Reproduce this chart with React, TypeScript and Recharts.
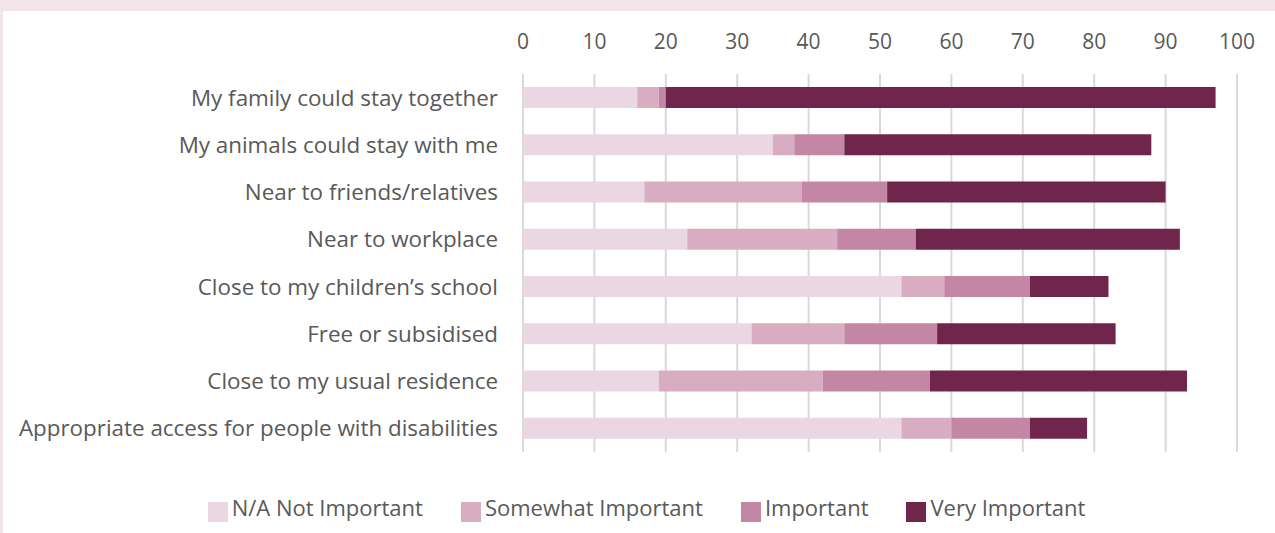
import React from "react";
import { BarChart, Bar, XAxis, YAxis, CartesianGrid, Legend } from "recharts";

const categories = [
  "My family could stay together",
  "My animals could stay with me",
  "Near to friends/relatives",
  "Near to workplace",
  "Close to my children\u2019s school",
  "Free or subsidised",
  "Close to my usual residence",
  "Appropriate access for people with disabilities",
];
const notImportant = [16, 35, 17, 23, 53, 32, 19, 53];
const somewhatImportant = [3, 3, 22, 21, 6, 13, 23, 7];
const important = [1, 7, 12, 11, 12, 13, 15, 11];
const veryImportant = [77, 43, 39, 37, 11, 25, 36, 8];
const xTicks = [0, 10, 20, 30, 40, 50, 60, 70, 80, 90, 100];

const seriesNames = ["N/A Not Important", "Somewhat Important", "Important", "Very Important"];
const seriesColors = ["#EAD7E2", "#D8ADC2", "#C386A4", "#70264C"];

const data = categories.map((name, i) => ({
  name,
  s0: notImportant[i],
  s1: somewhatImportant[i],
  s2: important[i],
  s3: veryImportant[i],
}));

const TEXT = "#595959";
const FONT = "'Open Sans', 'Noto Sans', sans-serif";

export default function App() {
  return (
    <div
      style={{
        position: "absolute",
        left: 0,
        top: 0,
        width: 1275,
        height: 533,
        background: "#F2E4EB",
        fontFamily: FONT,
        overflow: "hidden",
      }}
    >
      <div
        style={{
          position: "absolute",
          left: 3,
          top: 11,
          width: 1272,
          height: 522,
          background: "#FFFFFF",
        }}
      />
      <div style={{ position: "absolute", left: 0, top: 0 }}>
        <BarChart
          width={1275}
          height={533}
          data={data}
          layout="vertical"
          margin={{ top: 44, right: 38, bottom: 41, left: 10 }}
          barSize={21}
        >
          <CartesianGrid horizontal={false} vertical={true} stroke="#D9D9D9" strokeWidth={2} />
          <XAxis
            type="number"
            orientation="top"
            domain={[0, 100]}
            ticks={xTicks}
            interval={0}
            axisLine={false}
            tickLine={false}
            tickSize={0}
            tickMargin={25}
            height={30}
            tick={{ fill: TEXT, fontSize: 21 }}
          />
          <YAxis
            type="category"
            dataKey="name"
            width={513}
            axisLine={false}
            tickLine={false}
            tickSize={0}
            tickMargin={25}
            interval={0}
            tick={{ fill: TEXT, fontSize: 22.4 }}
          />
          <Legend
            verticalAlign="bottom"
            align="center"
            height={40}
            iconType="square"
            iconSize={20}
            itemSorter="dataKey"
            wrapperStyle={{ bottom: 1, paddingLeft: 84, boxSizing: "border-box" }}
            formatter={(v: string) => (
              <span style={{ color: TEXT, fontSize: 22, marginRight: 28 }}>{v}</span>
            )}
          />
          {["s0", "s1", "s2", "s3"].map((k, i) => (
            <Bar
              key={k}
              dataKey={k}
              stackId="a"
              name={seriesNames[i]}
              fill={seriesColors[i]}
              isAnimationActive={false}
            />
          ))}
        </BarChart>
      </div>
    </div>
  );
}
